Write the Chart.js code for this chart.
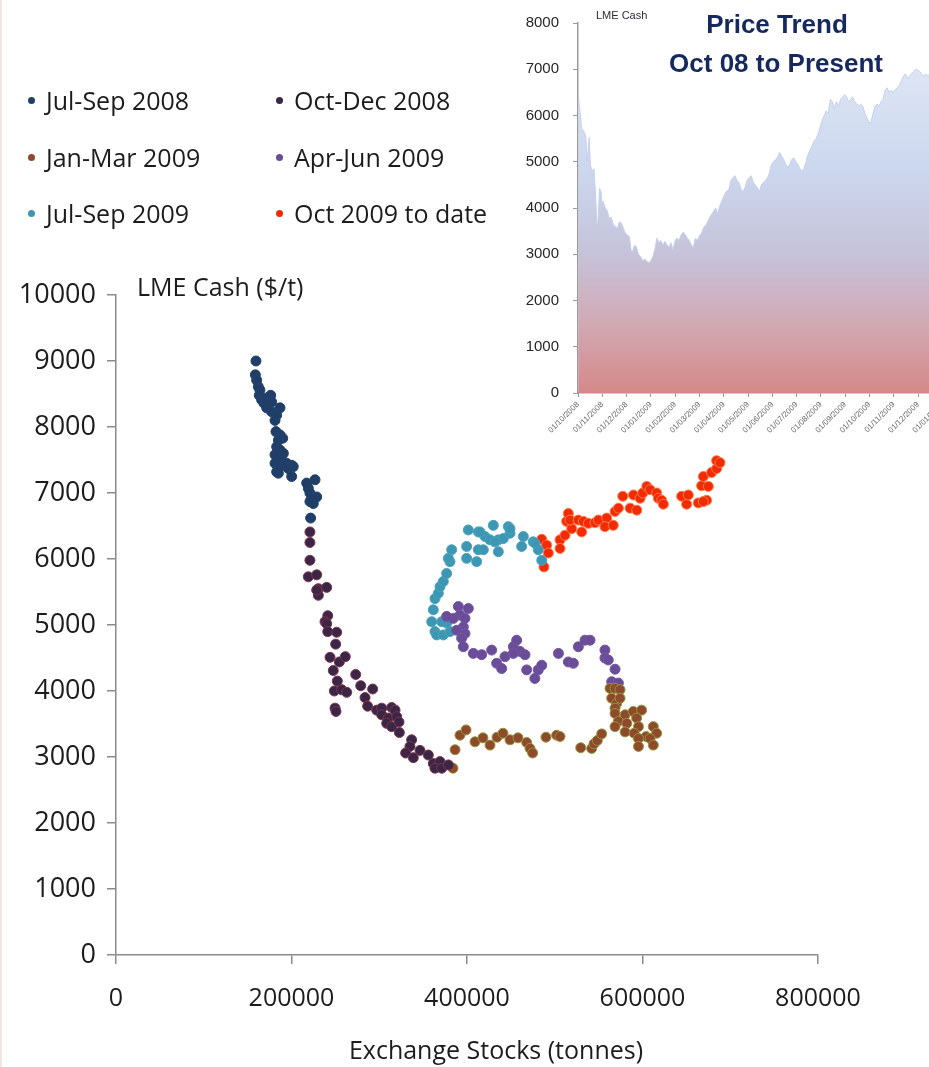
<!DOCTYPE html>
<html>
<head>
<meta charset="utf-8">
<script src="https://cdn.jsdelivr.net/npm/chart.js@4.4.0/dist/chart.umd.min.js"></script>
<style>
  html, body { margin: 0; padding: 0; background: #fff; overflow: hidden; }
  #wrap { position: relative; width: 929px; height: 1067px; overflow: hidden; border-left: 2px solid #f4e4e4; box-sizing: border-box; }
  #main { position: absolute; left: -2px; top: 0; }
  #trend { position: absolute; left: 498px; top: 0; }
  .item { position: absolute; font-family: "Open Sans", sans-serif; font-size: 25px; color: #1c1c1c; line-height: 30px; white-space: nowrap; }
  .dot { position: absolute; left: -18px; top: 12px; width: 7px; height: 7px; border-radius: 50%; }
</style>
</head>
<body>
<div id="wrap">
  <canvas id="main" width="929" height="1067"></canvas>
  <canvas id="trend" width="470" height="460"></canvas>
  <div id="legend"></div>
</div>
<script>
// ---- scatter data: exchange stocks (t) vs LME cash ($/t) ----
const seriesNames = ["Jul-Sep 2008", "Oct-Dec 2008", "Jan-Mar 2009", "Apr-Jun 2009", "Jul-Sep 2009", "Oct 2009 to date"];

const julSep08Stocks = [159500,158800,160300,162200,164000,163300,166000,168700,171700,176300,177400,171700,177400,186900,181200,183100,182300,186900,190000,185000,183100,186900,190700,181200,185000,188800,194500,200200,202000,181200,186900,183100,185000,196400,200200,217300,226800,219200,221000,222900,228700,221000,224800,221800];
const julSep08Prices = [9000,8790,8710,8610,8560,8480,8410,8360,8440,8480,8380,8290,8230,8290,8100,8180,7930,7880,7830,7800,7700,7650,7600,7580,7520,7500,7450,7420,7400,7450,7400,7320,7300,7370,7250,7150,7200,7070,7000,6920,6940,6870,6840,6620];

const octDec08Stocks = [221000,221000,221000,219200,228700,230600,240100,230600,228700,241300,238200,240100,241300,251500,250300,243900,254500,261300,247600,252200,248800,257200,262900,273200,278900,292500,283800,286800,249600,250700,297100,302800,314200,318000,302800,310400,319900,308500,314200,322500,322900,336900,335000,330100,338800,346400,355900,361600,369200,363500,371200,378800];
const octDec08Prices = [6410,6250,5980,5730,5760,5550,5570,5450,5530,5140,5050,5020,4900,4890,4710,4510,4440,4520,4310,4150,4000,4020,3980,4250,4080,4030,3900,3770,3740,3690,3710,3740,3750,3710,3640,3590,3610,3510,3460,3530,3370,3260,3160,3060,2990,3100,3030,2900,2930,2830,2830,2880];

const janMar09Stocks = [384000,386400,392000,398900,409100,418200,426200,434200,441000,449000,458100,468000,471800,474800,490000,502200,506000,529600,542100,544700,548500,553500,563000,568700,564900,574400,570600,568700,574400,568700,580200,589500,599000,593300,572500,582100,595400,568700,580200,590500,612300,616100,604100,595400,608600,595400,612300];
const janMar09Prices = [2830,3110,3330,3410,3230,3290,3180,3300,3360,3260,3290,3220,3130,3060,3300,3330,3310,3140,3130,3200,3250,3350,4040,4040,3890,4020,3810,3740,3890,3660,3640,3690,3710,3590,3540,3510,3460,3460,3380,3360,3460,3360,3310,3280,3280,3160,3180];

const aprJun09Stocks = [390100,401500,392000,397700,384400,376800,395800,388200,397700,393900,395800,407200,416700,428100,433800,439500,443300,452800,456600,460400,466100,452800,468000,477300,481200,485200,504200,515500,521200,526900,534500,540200,557200,557200,561000,568700,564900,572500];
const aprJun09Prices = [5280,5250,5150,5100,5100,5130,4970,4920,4870,4800,4670,4570,4550,4620,4420,4340,4520,4670,4770,4600,4550,4570,4320,4190,4320,4390,4570,4440,4420,4670,4770,4770,4620,4500,4470,4330,4140,4120];

const julSep09Stocks = [359800,363500,365500,373000,380600,376800,371200,361600,363500,367300,369200,373000,376800,380600,378700,382500,399600,399600,411000,412900,418600,401500,412900,420500,430000,426200,435700,441400,447100,449000,435700,464200,462300,475500,481200,485200,414800,431900,449000,477500];
const julSep09Prices = [5050,4900,4850,4850,4900,5030,5050,5230,5400,5480,5580,5660,5780,5960,6010,6140,6190,6010,5960,6140,6140,6440,6410,6340,6510,6290,6290,6310,6490,6390,6110,6340,6190,6260,6140,5980,6410,6260,6460,6240];

const oct09Stocks = [485200,490800,492700,487700,506000,506000,511700,513600,515500,519300,517400,526800,530700,532600,538300,545900,549700,559200,557200,566700,568700,572500,577500,585900,589700,593500,597300,600300,604900,608600,616200,618100,621900,623800,644600,650300,652200,663600,667400,675000,673100,669300,678700,684500,684500,688300,669300];
const oct09Prices = [6300,6210,6090,5880,6290,6160,6360,6570,6690,6460,6590,6590,6410,6570,6540,6550,6590,6620,6490,6510,6720,6770,6950,6770,6970,6740,6920,7000,7100,7050,7000,6920,6890,6830,6950,6830,6970,6850,7110,7100,6890,7250,7310,7370,7490,7460,6870];

const stockTicks = [0, 200000, 400000, 600000, 800000];
const priceTicks = [0, 1000, 2000, 3000, 4000, 5000, 6000, 7000, 8000, 9000, 10000];

// ---- inset: LME cash price trend, x in months from 01/10/2008 ----
const trendMonthLabels = ["01/10/2008","01/11/2008","01/12/2008","01/01/2009","01/02/2009","01/03/2009","01/04/2009","01/05/2009","01/06/2009","01/07/2009","01/08/2009","01/09/2009","01/10/2009","01/11/2009","01/12/2009","01/01/2010"];
const trendMonth = [0.01,0.03,0.07,0.15,0.24,0.32,0.38,0.46,0.51,0.57,0.66,0.74,0.78,0.82,0.89,0.95,0.99,1.03,1.12,1.20,1.28,1.37,1.45,1.53,1.62,1.70,1.78,1.87,1.95,2.03,2.12,2.18,2.24,2.33,2.41,2.49,2.58,2.66,2.75,2.83,2.91,2.99,3.08,3.16,3.25,3.33,3.41,3.50,3.58,3.66,3.75,3.83,3.91,4.00,4.08,4.16,4.25,4.33,4.41,4.50,4.58,4.67,4.75,4.83,4.92,5.00,5.08,5.17,5.29,5.42,5.54,5.67,5.75,5.84,5.96,6.09,6.21,6.30,6.38,6.46,6.55,6.63,6.72,6.80,6.88,6.96,7.05,7.13,7.22,7.30,7.38,7.47,7.55,7.63,7.72,7.80,7.88,7.97,8.05,8.14,8.22,8.30,8.39,8.47,8.55,8.64,8.72,8.80,8.89,8.97,9.05,9.14,9.22,9.30,9.39,9.47,9.55,9.64,9.72,9.80,9.89,9.97,10.06,10.14,10.22,10.31,10.39,10.47,10.56,10.64,10.73,10.81,10.89,10.98,11.06,11.14,11.23,11.31,11.39,11.48,11.56,11.64,11.73,11.81,11.90,11.98,12.06,12.15,12.23,12.31,12.40,12.48,12.56,12.65,12.73,12.81,12.90,12.98,13.06,13.15,13.23,13.32,13.40,13.48,13.57,13.65,13.73,13.82,13.90,13.98,14.07,14.15,14.23,14.32,14.40,14.48,14.57,14.65,14.73,14.81,14.98,15.19,15.40];
const trendPrice = [6370,6300,6150,5720,5650,5560,5000,5520,4950,4800,4850,4100,3650,3700,4420,4350,4050,4150,4000,3950,3780,3800,3640,3600,3560,3700,3680,3560,3450,3420,3380,3100,3050,3200,3150,3000,2950,2860,2900,2850,2820,2850,2950,3100,3350,3250,3300,3200,3280,3200,3150,3250,3100,3300,3350,3300,3420,3480,3430,3350,3300,3200,3150,3350,3300,3400,3450,3580,3650,3800,3900,4000,3880,4050,4200,4350,4400,4600,4650,4700,4600,4550,4400,4350,4450,4600,4650,4700,4550,4500,4450,4350,4500,4550,4600,4650,4750,4950,5000,5050,5100,5200,5120,5050,4950,4880,4950,5050,5080,5000,4950,4850,4800,4850,5000,5150,5250,5350,5450,5500,5600,5750,5900,6000,6100,6050,6350,6300,6150,6300,6200,6350,6400,6450,6400,6300,6350,6400,6300,6250,6200,6250,6200,6050,5950,5850,5850,6050,6200,6250,6200,6300,6350,6550,6600,6500,6550,6500,6550,6600,6650,6750,6850,6900,6800,6850,6900,6950,7000,6980,6950,6900,6850,6900,6850,6900,6950,7000,7050,7000,7050,7000,7100];
const trendTicks = [0, 1000, 2000, 3000, 4000, 5000, 6000, 7000, 8000];

// ---- build scatter datasets ----
const fills   = ["#203f68", "#3b2647", "#8e4a2a", "#6a4c98", "#3d97b3", "#f32a06"];
const borders = ["#24416a", "#7b3448", "#92963e", "#7257a3", "#4aa3bd", "#ff7a45"];
const stockSets = [julSep08Stocks, octDec08Stocks, janMar09Stocks, aprJun09Stocks, julSep09Stocks, oct09Stocks];
const priceSets = [julSep08Prices, octDec08Prices, janMar09Prices, aprJun09Prices, julSep09Prices, oct09Prices];

const datasets = seriesNames.map((name, i) => ({
  label: name,
  data: stockSets[i].map((s, j) => ({ x: s, y: priceSets[i][j] })),
  backgroundColor: fills[i],
  borderColor: borders[i],
  borderWidth: 1,
  pointRadius: 5,
  pointHoverRadius: 5
}));

// legend, laid out in two columns like the slide
const legendPos = [[44, 85], [292, 85], [44, 142], [292, 142], [44, 198], [292, 198]];
const legendBox = document.getElementById("legend");
seriesNames.forEach((name, i) => {
  const d = document.createElement("div");
  d.className = "item";
  d.style.left = legendPos[i][0] + "px";
  d.style.top = legendPos[i][1] + "px";
  d.innerHTML = '<span class="dot" style="background:' + fills[i] + '"></span>' + name;
  legendBox.appendChild(d);
});

// axis titles drawn as plain text, placed like the original
const axisTitles = {
  id: "axisTitles",
  afterDraw(chart) {
    const { ctx, chartArea } = chart;
    ctx.save();
    ctx.fillStyle = "#1c1c1c";
    ctx.font = "25px 'Open Sans'";
    ctx.textBaseline = "middle";
    ctx.textAlign = "left";
    ctx.fillText("LME Cash ($/t)", chartArea.left + 21, chartArea.top - 6);
    ctx.textAlign = "center";
    ctx.fillText("Exchange Stocks (tonnes)", 496, 1052);
    ctx.restore();
  }
};

const plain = (v) => String(v);
const axisGrey = "#8a8a8a";
new Chart(document.getElementById("main"), {
  type: "scatter",
  data: { datasets: datasets },
  options: {
    responsive: false,
    animation: false,
    layout: { padding: { top: 295, right: 111, bottom: 0, left: 0 } },
    plugins: { legend: { display: false }, tooltip: { enabled: false } },
    scales: {
      x: {
        type: "linear",
        min: 0, max: 800000,
        afterBuildTicks: (s) => { s.ticks = stockTicks.map(v => ({ value: v })); },
        afterFit: (s) => { s.height = 112; },
        grid: { drawOnChartArea: false, drawTicks: true, tickLength: 9, color: axisGrey, lineWidth: 1.5 },
        border: { color: axisGrey, width: 1.5 },
        ticks: { color: "#1c1c1c", font: { family: "Open Sans", size: 25 }, padding: 20, maxRotation: 0, callback: plain }
      },
      y: {
        type: "linear",
        min: 0, max: 10000,
        afterBuildTicks: (s) => { s.ticks = priceTicks.map(v => ({ value: v })); },
        afterFit: (s) => { s.width = 116; },
        grid: { drawOnChartArea: false, drawTicks: true, tickLength: 9, color: axisGrey, lineWidth: 1.5 },
        border: { color: axisGrey, width: 1.5 },
        ticks: { color: "#1c1c1c", font: { family: "Open Sans", size: 27 }, padding: 11, callback: plain }
      }
    }
  },
  plugins: [axisTitles]
});

// ---- inset chart ----
function areaGradient(context) {
  const { ctx, chartArea } = context.chart;
  if (!chartArea) return "#c8d5ee";
  const g = ctx.createLinearGradient(0, chartArea.top, 0, chartArea.bottom);
  g.addColorStop(0, "#e6ecf7");
  g.addColorStop(0.4, "#cbd7ee");
  g.addColorStop(0.62, "#c6c3da");
  g.addColorStop(0.82, "#d1a8b2");
  g.addColorStop(1, "#d68888");
  return g;
}

const insetTitle = {
  id: "insetTitle",
  afterDraw(chart) {
    const { ctx } = chart;
    ctx.save();
    ctx.fillStyle = "#2a2a3a";
    ctx.font = "11px 'Liberation Sans'";
    ctx.textBaseline = "middle";
    ctx.textAlign = "left";
    ctx.fillText("LME Cash", 96, 16);
    ctx.fillStyle = "#16295e";
    ctx.font = "bold 26px 'Liberation Sans'";
    ctx.textAlign = "center";
    ctx.fillText("Price Trend", 277, 26);
    ctx.fillText("Oct 08 to Present", 276, 65);
    ctx.restore();
  }
};

new Chart(document.getElementById("trend"), {
  type: "line",
  data: {
    datasets: [{
      label: "LME Cash",
      data: trendMonth.map((m, i) => ({ x: m, y: trendPrice[i] })),
      fill: "origin",
      backgroundColor: areaGradient,
      borderColor: "#c3d1ec",
      borderWidth: 1,
      pointRadius: 0,
      tension: 0
    }]
  },
  options: {
    responsive: false,
    animation: false,
    layout: { padding: { top: 21, right: 18, bottom: 0, left: 0 } },
    plugins: { legend: { display: false }, tooltip: { enabled: false } },
    scales: {
      x: {
        type: "linear",
        min: 0, max: 15.4,
        afterBuildTicks: (s) => { s.ticks = trendMonthLabels.map((l, i) => ({ value: i })); },
        afterFit: (s) => { s.height = 67; },
        grid: { drawOnChartArea: false, drawTicks: true, tickLength: 4, color: "#9a9a9a" },
        border: { color: "#9a9a9a", width: 1.5 },
        ticks: {
          autoSkip: false, minRotation: 45, maxRotation: 45, padding: 3,
          color: "#6a6a6a", font: { family: "Liberation Sans", size: 8 },
          callback: (v) => trendMonthLabels[v]
        }
      },
      y: {
        min: 0, max: 8000,
        afterBuildTicks: (s) => { s.ticks = trendTicks.map(v => ({ value: v })); },
        afterFit: (s) => { s.width = 78; },
        grid: { drawOnChartArea: false, drawTicks: true, tickLength: 5, color: "#9a9a9a" },
        border: { color: "#9a9a9a", width: 1.5 },
        ticks: { color: "#262626", font: { family: "Liberation Sans", size: 15 }, padding: 14, callback: plain }
      }
    }
  },
  plugins: [insetTitle]
});
</script>
</body>
</html>
